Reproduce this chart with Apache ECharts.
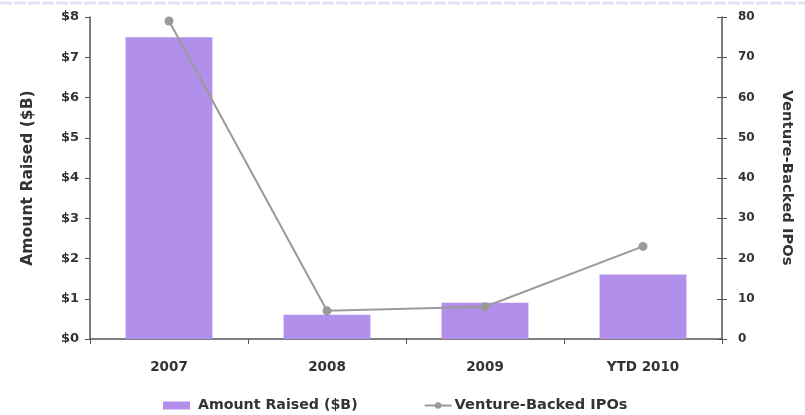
<!DOCTYPE html>
<html>
<head>
<meta charset="utf-8">
<style>
  html, body { margin: 0; padding: 0; background: #ffffff; }
  #chart { width: 805px; height: 415px; }
</style>
<script src="https://cdn.jsdelivr.net/npm/echarts@6/dist/echarts.min.js"></script>
</head>
<body>
<div id="chart"></div>
<script>
// Venture-backed IPO activity by year
const categories = ['2007', '2008', '2009', 'YTD 2010'];
const amountRaised = [7.5, 0.6, 0.9, 1.6];      // $B, left axis
const ipoCounts = [79, 7, 8, 23];               // number of IPOs, right axis
const leftTicks = [0, 8, 1];                    // min, max, interval
const rightTicks = [0, 80, 10];

const FONT = '"DejaVu Sans", sans-serif';
const TEXT = '#333333';
const AXIS = '#555555';

const chart = echarts.init(document.getElementById('chart'), null, { renderer: 'canvas' });

chart.setOption({
  animation: false,
  backgroundColor: '#ffffff',
  textStyle: { fontFamily: FONT },
  graphic: [{
    type: 'line',
    shape: { x1: 0, y1: 3, x2: 805, y2: 3 },
    style: { stroke: '#dfe1f7', lineWidth: 3, lineDash: [12, 2] },
    silent: true
  }],
  grid: { left: 90, right: 83, top: 17, bottom: 76 },
  legend: {
    top: 393,
    left: 158,
    itemGap: 66,
    itemWidth: 27,
    itemHeight: 8,
    textStyle: { fontFamily: FONT, fontWeight: 'bold', fontSize: 14, color: TEXT },
    data: [
      { name: 'Amount Raised ($B)', icon: 'rect',
        textStyle: { fontSize: 14.2, padding: [0, 0, 0, 3] } },
      { name: 'Venture-Backed IPOs',
        textStyle: { fontSize: 14.6, padding: [0, 0, 0, -2] } }
    ]
  },
  xAxis: {
    type: 'category',
    data: categories,
    axisLine: { lineStyle: { color: AXIS, width: 1.5 } },
    axisTick: { show: true, alignWithLabel: false, length: 5, lineStyle: { color: AXIS } },
    axisLabel: { fontFamily: FONT, fontWeight: 'bold', fontSize: 13.5, color: TEXT, margin: 21 }
  },
  yAxis: [
    {
      type: 'value',
      min: leftTicks[0], max: leftTicks[1], interval: leftTicks[2],
      name: 'Amount Raised ($B)',
      nameLocation: 'middle',
      nameRotate: 90,
      nameGap: 54,
      nameTextStyle: { fontFamily: FONT, fontWeight: 'bold', fontSize: 15.6, color: TEXT },
      axisLine: { show: true, lineStyle: { color: AXIS, width: 1.5 } },
      axisTick: { show: true, length: 5, lineStyle: { color: AXIS } },
      splitLine: { show: false },
      axisLabel: {
        fontFamily: FONT, fontWeight: 'bold', fontSize: 13, color: TEXT, margin: 11,
        formatter: v => '$' + v
      }
    },
    {
      type: 'value',
      position: 'right',
      min: rightTicks[0], max: rightTicks[1], interval: rightTicks[2],
      name: 'Venture-Backed IPOs',
      nameLocation: 'middle',
      nameRotate: -90,
      nameGap: 57,
      nameTextStyle: { fontFamily: FONT, fontWeight: 'bold', fontSize: 14.8, color: TEXT },
      axisLine: { show: true, lineStyle: { color: AXIS, width: 1.5 } },
      axisTick: { show: true, length: 5, lineStyle: { color: AXIS } },
      splitLine: { show: false },
      axisLabel: { fontFamily: FONT, fontWeight: 'bold', fontSize: 12, color: TEXT, margin: 16 }
    },
    {
      // inner half of the right-axis ticks, so they cross the axis line
      type: 'value',
      position: 'right',
      min: rightTicks[0], max: rightTicks[1], interval: rightTicks[2],
      axisLine: { show: false },
      axisTick: { show: true, inside: true, length: 5, lineStyle: { color: AXIS } },
      axisLabel: { show: false },
      splitLine: { show: false }
    }
  ],
  series: [
    {
      name: 'Amount Raised ($B)',
      type: 'bar',
      yAxisIndex: 0,
      data: amountRaised,
      barWidth: '55%',
      itemStyle: { color: '#b18fea' }
    },
    {
      name: 'Venture-Backed IPOs',
      type: 'line',
      yAxisIndex: 1,
      data: ipoCounts,
      symbol: 'circle',
      symbolSize: 9,
      lineStyle: { color: '#9a9a9a', width: 2 },
      itemStyle: { color: '#9a9a9a' }
    }
  ]
});
</script>
</body>
</html>
